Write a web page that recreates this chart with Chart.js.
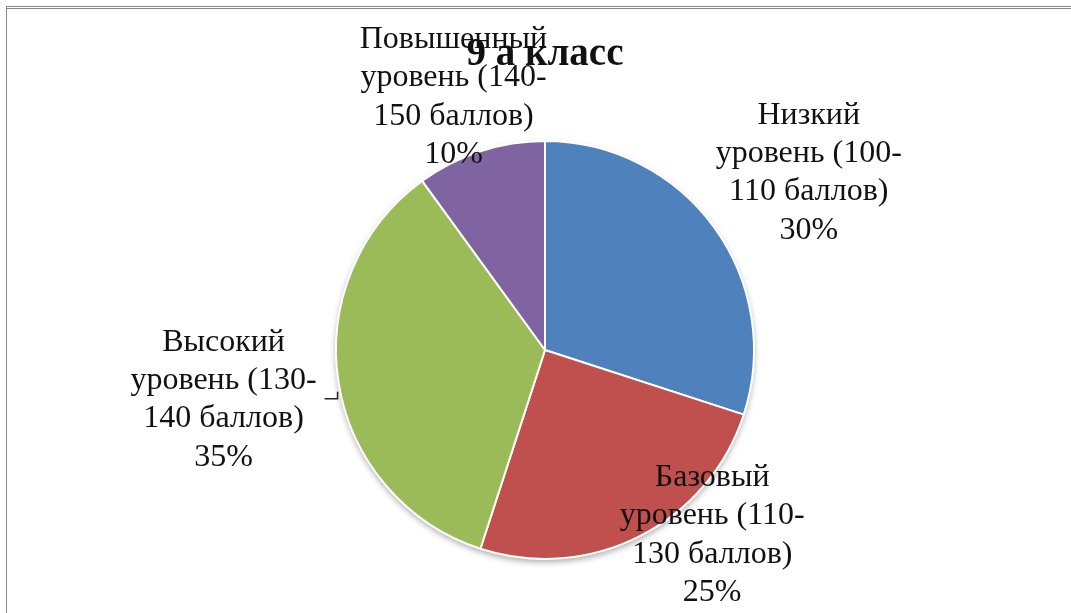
<!DOCTYPE html>
<html>
<head>
<meta charset="utf-8">
<script src="https://cdn.jsdelivr.net/npm/chart.js@4.4.1/dist/chart.umd.min.js"></script>
<style>
    html, body { margin: 0; padding: 0; background: #ffffff; }
    #wrap { position: relative; width: 1071px; height: 613px; }
    #frame {
        position: absolute; left: 6px; top: 6px; right: 0; bottom: 0;
        border-left: 1px solid #8a8a8a; border-top: 3px double #8a8a8a;
    }
    canvas { position: absolute; left: 0; top: 0; }
</style>
</head>
<body>
<div id="wrap">
    <div id="frame"></div>
    <canvas id="pie" width="1071" height="613"></canvas>
</div>
<script>
const chartTitle = '9 а класс';
const categories = [
    ['Низкий', 'уровень (100-', '110 баллов)'],
    ['Базовый', 'уровень (110-', '130 баллов)'],
    ['Высокий', 'уровень (130-', '140 баллов)'],
    ['Повышенный', 'уровень (140-', '150 баллов)']
];
const shares = [30, 25, 35, 10];
const sliceColors = ['#4f81bd', '#c0504d', '#9bbb59', '#8064a2'];

// label anchors, in pie radii from the centre (Excel "best fit" placement)
const labelOffsets = [[1.262, -0.848], [0.80, 0.885], [-1.538, 0.238], [-0.438, -1.21]];

const labelsPlugin = {
    id: 'sliceLabels',
    beforeDatasetsDraw(chart) {
        // soft shadow under the pie
        const ctx = chart.ctx;
        ctx.save();
        ctx.shadowColor = 'rgba(0,0,0,0.35)';
        ctx.shadowBlur = 6;
        ctx.shadowOffsetY = 3;
        const arc = chart.getDatasetMeta(0).data[0];
        ctx.beginPath();
        ctx.arc(arc.x, arc.y, arc.outerRadius, 0, Math.PI * 2);
        ctx.fillStyle = '#ffffff';
        ctx.fill();
        ctx.restore();
    },
    afterDatasetsDraw(chart) {
        const ctx = chart.ctx;
        const meta = chart.getDatasetMeta(0);
        const total = shares.reduce((a, b) => a + b, 0);
        ctx.save();
        ctx.fillStyle = '#111111';
        ctx.textAlign = 'center';
        ctx.textBaseline = 'middle';
        ctx.font = '32px "Liberation Serif", "Times New Roman", serif';
        const lh = 38.3;
        meta.data.forEach((arc, i) => {
            const r = arc.outerRadius;
            const cx = arc.x + labelOffsets[i][0] * r;
            const cy = arc.y + labelOffsets[i][1] * r;
            const lines = categories[i].concat([Math.round(shares[i] / total * 100) + '%']);
            lines.forEach((t, k) => {
                ctx.fillText(t, cx, cy + (k - (lines.length - 1) / 2) * lh);
            });
        });

        // short leader line of the "Высокий" label
        const a = meta.data[2];
        const lx = a.x + labelOffsets[2][0] * a.outerRadius;
        const ly = a.y + labelOffsets[2][1] * a.outerRadius;
        ctx.strokeStyle = '#222222';
        ctx.lineWidth = 1.5;
        ctx.beginPath();
        ctx.moveTo(lx + 101, ly - 1);
        ctx.lineTo(lx + 114, ly - 1);
        ctx.lineTo(lx + 114, ly - 8);
        ctx.stroke();

        // title
        ctx.font = 'bold 39px "Liberation Serif", "Times New Roman", serif';
        ctx.textBaseline = 'alphabetic';
        ctx.fillText(chartTitle, a.x, 65);
        ctx.restore();
    }
};

new Chart(document.getElementById('pie'), {
    type: 'pie',
    data: {
        labels: categories.map(c => c.join(' ')),
        datasets: [{
            data: shares,
            backgroundColor: sliceColors,
            borderColor: '#ffffff',
            borderWidth: 2
        }]
    },
    options: {
        responsive: false,
        animation: false,
        layout: { padding: { top: 140, bottom: 53, left: 335, right: 316 } },
        plugins: {
            legend: { display: false },
            tooltip: { enabled: false },
            title: { display: false }
        }
    },
    plugins: [labelsPlugin]
});
</script>
</body>
</html>
